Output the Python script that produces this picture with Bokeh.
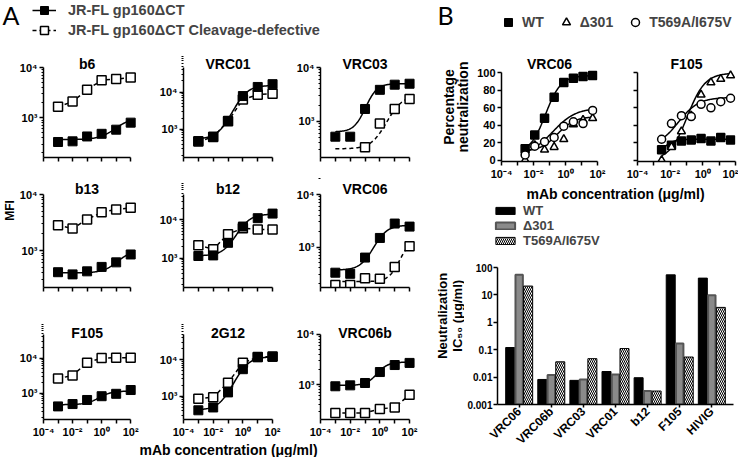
import numpy as np
from bokeh.plotting import figure
from bokeh.layouts import row, column
from bokeh.models import (Range1d, FixedTicker, CustomJSTickFormatter, Legend, LegendItem,
                          FactorRange, ColumnDataSource)
from bokeh.transform import dodge
from bokeh.core.properties import value
from bokeh.embed import file_html
from bokeh.resources import INLINE

FONT = "Liberation Sans"

# ---------------- Panel A data (MFI) ----------------
conc_A = [0.001, 0.01, 0.1, 1, 10, 100]
titles_A = ["b6", "VRC01", "VRC03", "b13", "b12", "VRC06", "F105", "2G12", "VRC06b"]

wt_b6 = [330, 340, 425, 480, 580, 800]
cd_b6 = [1650, 2100, 3600, 5600, 5900, 6300]
wt_vrc01 = [480, 630, 1690, 7800, 13700, 16300]
cd_vrc01 = [470, 620, 1650, 6300, 8500, 9000]
wt_vrc03 = [520, 520, 1700, 3850, 4800, 5000]
cd_vrc03 = [np.nan, np.nan, 330, 910, 1700, 2600]
wt_b13 = [410, 375, 425, 510, 615, 850]
cd_b13 = [2830, 2470, 3580, 4800, 5400, 5800]
wt_b12 = [1130, 1170, 2500, 6650, 11000, 14500]
cd_b12 = [2150, 1700, 4200, 6000, 5600, 5600]
wt_vrc06 = [325, 310, 630, 1490, 2800, 2450]
cd_vrc06 = [190, 190, 255, 250, 415, 1030]
wt_f105 = [420, 490, 640, 820, 960, 1230]
cd_f105 = [2600, 3200, 7400, 10000, 10300, 10300]
wt_2g12 = [410, 490, 1270, 5500, 11800, 12000]
cd_2g12 = [850, 940, 2350, 8200, 11800, 12200]
wt_vrc06b = [930, 970, 1080, 1780, 2450, 2700]
cd_vrc06b = [275, 275, 275, 330, 355, 630]

# 4-parameter logistic fits: [bottom, top, logEC50, hill]
fit_wt_b6 = [370, 1000, 1.2, 0.8]
fit_wt_vrc01 = [550, 15000, 0.0, 1.0]
fit_wt_vrc03 = [640, 5000, -0.6, 1.2]
fit_cd_vrc03 = [310, 3000, 1.0, 0.9]
fit_wt_b13 = [400, 1000, 1.3, 0.9]
fit_wt_b12 = [1150, 14000, 0.1, 1.0]
fit_wt_vrc06 = [365, 2600, 0.0, 1.0]
fit_cd_vrc06 = [220, 1500, 1.7, 1.2]
fit_wt_f105 = [470, 1150, 0.0, 1.0]
fit_wt_2g12 = [420, 12000, 0.1, 1.0]
fit_wt_vrc06b = [970, 2800, 0.0, 1.2]

wt_A = [wt_b6, wt_vrc01, wt_vrc03, wt_b13, wt_b12, wt_vrc06, wt_f105, wt_2g12, wt_vrc06b]
cd_A = [cd_b6, cd_vrc01, cd_vrc03, cd_b13, cd_b12, cd_vrc06, cd_f105, cd_2g12, cd_vrc06b]
fitwt_A = [fit_wt_b6, fit_wt_vrc01, fit_wt_vrc03, fit_wt_b13, fit_wt_b12, fit_wt_vrc06,
           fit_wt_f105, fit_wt_2g12, fit_wt_vrc06b]
fitcd_A = [None, None, fit_cd_vrc03, None, None, fit_cd_vrc06, None, None, None]
# y-axis extents (log10) of each small plot
ylog_A = [(2.21, 4.0), (2.24, 4.66), (2.33, 4.0), (2.34, 4.0), (2.23, 4.66), (2.23, 4.0),
          (2.25, 4.68), (2.36, 4.70), (2.31, 4.0)]

# ---------------- Panel B data (neutralization) ----------------
conc_B = [0.003, 0.012, 0.049, 0.195, 0.78, 3.125, 12.5, 50]
vrc06_wt = [13, 29, 48, 72, 89, 94, 96, 97]
vrc06_d301 = [0, 17, 12, 15, 24, 41, 46, 48]
vrc06_t569 = [6, 16, 21, 26, 39, 44, 42, 57]
f105_wt = [12, 17, 22, 23, 25, 22, 26, 23]
f105_d301 = [0, 15, 33, 51, 75, 89, 93, 97]
f105_t569 = [24, 42, 51, 50, 64, 60, 67, 71]
fit_vrc06_B = [[8, 97, -1.25, 0.9], [10, 50, -0.5, 0.8], [5, 60, -0.8, 0.6]]
fit_f105_B = [[8, 24, -2.3, 1.5], [0, 100, -0.95, 0.8], [15, 72, -1.5, 0.7]]

bar_cats = ["VRC06", "VRC06b", "VRC03", "VRC01", "b12", "F105", "HIVIG"]
ic50_wt = [0.12, 0.0082, 0.0076, 0.016, 0.0095, 54, 41]
ic50_d301 = [54, 0.012, 0.0082, 0.0125, 0.0031, 0.17, 9.8]
ic50_t569 = [21, 0.036, 0.047, 0.11, 0.0031, 0.054, 3.5]


def four_pl(x, prm):
    bottom, top, logec50, hill = prm
    x = np.asarray(x, dtype=float)
    return bottom + (top - bottom) / (1 + 10 ** ((logec50 - np.log10(x)) * hill))


SUP_MAP = ('const m = {"-":"\u207b","0":"\u2070","1":"\u00b9","2":"\u00b2","3":"\u00b3",'
           '"4":"\u2074","5":"\u2075","6":"\u2076","7":"\u2077","8":"\u2078","9":"\u2079"};')
CODE_EVEN = SUP_MAP + """
const e = Math.round(Math.log10(tick));
if (e % 2 !== 0) { return ""; }
return "10" + String(e).split("").map(c => m[c]).join("");
"""
CODE_ALL = SUP_MAP + """
const e = Math.round(Math.log10(tick));
return "10" + String(e).split("").map(c => m[c]).join("");
"""
CODE_NONE = 'return "";'
CODE_DEC = """
if (tick >= 1) { return tick.toFixed(0); }
const d = Math.round(-Math.log10(tick));
return tick.toFixed(d);
"""


def style_axis(ax, size="11px"):
    ax.axis_line_width = 1.5
    ax.axis_line_color = "black"
    ax.major_tick_line_width = 1.5
    ax.major_tick_line_color = "black"
    ax.minor_tick_line_width = 1
    ax.minor_tick_line_color = "black"
    ax.major_tick_in = 0
    ax.major_tick_out = 4
    ax.minor_tick_in = 0
    ax.minor_tick_out = 2
    ax.major_label_standoff = 2
    ax.major_label_text_font = FONT
    ax.major_label_text_font_style = "bold"
    ax.major_label_text_font_size = size
    ax.major_label_text_color = "black"


def style_fig(p):
    p.xgrid.visible = False
    p.ygrid.visible = False
    p.outline_line_color = None
    p.background_fill_color = "white"
    p.border_fill_color = "white"


def blank(w, h):
    p = figure(width=w, height=h, x_range=Range1d(0, w), y_range=Range1d(0, h),
               x_axis_location=None, y_axis_location=None, output_backend="svg",
               toolbar_location=None, min_border=0)
    p.grid.visible = False
    p.outline_line_color = None
    p.background_fill_color = "white"
    p.border_fill_color = "white"
    return p


def put_text(p, x, y, s, size="13px", bold=True, angle=0.0, align="center",
             baseline="middle", font=FONT):
    p.text(x=[x], y=[y], text=[s], angle=angle, text_align=align, text_baseline=baseline,
           text_font=value(font), text_font_size=size,
           text_font_style="bold" if bold else "normal", text_color="black")


def legend_style(**kw):
    base = dict(padding=0, margin=0, border_line_color=None, background_fill_alpha=0,
                label_text_font=FONT, label_text_font_style="bold",
                label_text_font_size="14px")
    base.update(kw)
    return base


NAN = [np.nan]
decades = [10.0 ** e for e in range(-4, 3)]
minors = [m * 10.0 ** e for e in range(2, 5) for m in range(2, 10)]


def mfi_fig(k, w, bl, br, h, bt, bb, extra, tgap, xlabels):
    """extra: pixels of frame kept above the axis top for the plot title."""
    lo, hi = ylog_A[k]
    ppd = (h - bt - bb - extra) / (hi - lo)
    top = hi + extra / ppd
    p = figure(width=w, height=h, x_axis_type="log", y_axis_type="log",
               x_range=Range1d(1e-4, 10 ** 2.4), y_range=Range1d(10 ** lo, 10 ** top),
               output_backend="svg", toolbar_location=None,
               min_border_left=bl, min_border_right=br, min_border_top=bt, min_border_bottom=bb)
    style_fig(p)
    xs = np.logspace(-3, 2, 120)
    if fitcd_A[k] is not None:
        p.line(xs, four_pl(xs, fitcd_A[k]), line_color="black", line_width=1.5, line_dash="4 3")
    else:
        p.line(conc_A, cd_A[k], line_color="black", line_width=1.5, line_dash="4 3")
    p.scatter(conc_A, cd_A[k], marker="square", size=9, fill_color="white",
              line_color="black", line_width=1.5)
    p.line(xs, four_pl(xs, fitwt_A[k]), line_color="black", line_width=1.5)
    p.scatter(conc_A, wt_A[k], marker="square", size=9, fill_color="black", line_color="black")
    put_text(p, 10 ** -1, 10 ** (hi + tgap / ppd), titles_A[k], size="14px")
    xa = p.xaxis[0]
    ya = p.yaxis[0]
    style_axis(xa)
    style_axis(ya)
    xa.ticker = FixedTicker(ticks=decades)
    xa.bounds = (1e-4, 1e2)
    xa.formatter = CustomJSTickFormatter(code=CODE_EVEN if xlabels else CODE_NONE)
    ya.ticker = FixedTicker(ticks=[1e3, 1e4], minor_ticks=minors)
    ya.bounds = (10 ** lo, 10 ** hi)
    ya.formatter = CustomJSTickFormatter(code=CODE_ALL)
    return p


# ---------------- Panel A layout ----------------
col_w = [(134, 25, 14), (140, 33, 12), (128, 30, 3)]
# (height, border top, border bottom, title room, title gap above axis top)
row_h = [(126, 2, 19, 15, 4), (142, 2, 31, 16, 6), (122, 2, 19, 14, 1)]
rows_A = []
for r in range(3):
    h, bt, bb, extra, tgap = row_h[r]
    figs = [mfi_fig(3 * r + c, *col_w[c], h, bt, bb, extra, tgap, xlabels=(r == 2))
            for c in range(3)]
    rows_A.append(row(*figs))

headA = blank(418, 50)
put_text(headA, 2, 51, "A", size="25px", bold=False, align="left", baseline="top", font="Lato")
la1 = headA.line(x=NAN, y=NAN, line_color="black", line_width=1.5)
sa1 = headA.scatter(x=NAN, y=NAN, marker="square", fill_color="black", line_color="black")
la2 = headA.line(x=NAN, y=NAN, line_color="black", line_width=1.5, line_dash="4 3")
sa2 = headA.scatter(x=NAN, y=NAN, marker="square", fill_color="white", line_color="black",
                    line_width=1.5)
legA = Legend(items=[LegendItem(label="JR-FL gp160\u0394CT", renderers=[la1, sa1]),
                     LegendItem(label="JR-FL gp160\u0394CT Cleavage-defective", renderers=[la2, sa2])],
              location=(32, 10), glyph_width=24, glyph_height=20, label_height=16, spacing=-3,
              label_standoff=12, **legend_style(label_text_font_size="14.5px"))
headA.add_layout(legA)

stripA = blank(16, 390)
put_text(stripA, 9, 230, "MFI", size="12px", angle=np.pi / 2)
footA = blank(418, 17)
put_text(footA, 228, 8, "mAb concentration (\u03bcg/ml)", size="14px")

panelA = column(headA, row(stripA, column(*rows_A)), footA)


# ---------------- Panel B curves ----------------
def neut_fig(title, series, fits, w, bl, br, ylabels):
    h, bt, bb, extra, tgap = 142, 2, 21, 30, 9
    ppu = (h - bt - bb - extra) / 102.0
    p = figure(width=w, height=h, x_axis_type="log", x_range=Range1d(1e-4, 1e2),
               y_range=Range1d(-1.5, 100.5 + extra / ppu), output_backend="svg",
               toolbar_location=None, min_border_left=bl, min_border_right=br,
               min_border_top=bt, min_border_bottom=bb)
    style_fig(p)
    xs = np.logspace(np.log10(conc_B[0]), np.log10(conc_B[-1]), 100)
    for vals, fit, marker, fill in zip(series, fits, ["square", "triangle", "circle"],
                                       ["black", "white", "white"]):
        p.line(xs, four_pl(xs, fit), line_color="black", line_width=1.5)
        p.scatter(conc_B, vals, marker=marker, size=8, fill_color=fill, line_color="black",
                  line_width=1.5)
    put_text(p, 10 ** -1, 100 + tgap / ppu, title, size="14px")
    xa = p.xaxis[0]
    ya = p.yaxis[0]
    style_axis(xa)
    style_axis(ya)
    xa.ticker = FixedTicker(ticks=decades)
    xa.formatter = CustomJSTickFormatter(code=CODE_EVEN)
    ya.ticker = FixedTicker(ticks=[0, 20, 40, 60, 80, 100])
    ya.bounds = (-1.5, 100)
    if not ylabels:
        ya.formatter = CustomJSTickFormatter(code=CODE_NONE)
    return p


pv = neut_fig("VRC06", [vrc06_wt, vrc06_d301, vrc06_t569], fit_vrc06_B, 147, 31, 20, True)
pf = neut_fig("F105", [f105_wt, f105_d301, f105_t569], fit_f105_B, 121, 20, 3, False)
stripB1 = blank(52, 142)
put_text(stripB1, 30, 65, "Percentage", size="14px", angle=np.pi / 2)
put_text(stripB1, 44, 65, "neutralization", size="14px", angle=np.pi / 2)

headB = blank(320, 40)
put_text(headB, 19, 41, "B", size="25px", bold=False, align="left", baseline="top", font="Lato")
sb1 = headB.scatter(x=NAN, y=NAN, marker="square", fill_color="black", line_color="black")
sb2 = headB.scatter(x=NAN, y=NAN, marker="triangle", fill_color="white", line_color="black",
                    line_width=1.5)
sb3 = headB.scatter(x=NAN, y=NAN, marker="circle", fill_color="white", line_color="black",
                    line_width=1.5)
legB = Legend(items=[LegendItem(label="WT", renderers=[sb1]),
                     LegendItem(label="\u0394301", renderers=[sb2]),
                     LegendItem(label="T569A/I675V", renderers=[sb3])],
              orientation="horizontal", location=(80, 8), glyph_width=20, glyph_height=20,
              label_height=16, spacing=12, label_standoff=4, **legend_style())
headB.add_layout(legB)

xlabB = blank(320, 20)
put_text(xlabB, 197, 9, "mAb concentration (\u03bcg/ml)", size="14px")

# ---------------- Panel B bars ----------------
src = ColumnDataSource(dict(cat=bar_cats, wt=ic50_wt, d301=ic50_d301, t569=ic50_t569))
pb = figure(width=274, height=207, x_range=FactorRange(factors=bar_cats, range_padding=0.05),
            y_axis_type="log", y_range=Range1d(0.001, 100), output_backend="svg",
            toolbar_location=None, min_border_left=30, min_border_right=5, min_border_top=17,
            min_border_bottom=53)
style_fig(pb)
BAR_WT = dict(fill_color="black", line_color="black")
BAR_D301 = dict(fill_color="#8a8a8a", line_color="#555555", line_width=2)
BAR_T569 = dict(fill_color="black", line_color="black", hatch_pattern="left_diagonal_line",
                hatch_color="white", hatch_scale=4, hatch_weight=1)
pb.vbar(x=dodge("cat", -0.28, range=pb.x_range), top="wt", bottom=0.001, width=0.28,
        source=src, **BAR_WT)
pb.vbar(x=dodge("cat", 0.0, range=pb.x_range), top="d301", bottom=0.001, width=0.23,
        source=src, **BAR_D301)
pb.vbar(x=dodge("cat", 0.28, range=pb.x_range), top="t569", bottom=0.001, width=0.28,
        source=src, **BAR_T569)
style_axis(pb.xaxis[0], size="12px")
style_axis(pb.yaxis[0], size="10px")
pb.yaxis.major_label_standoff = 1
pb.xaxis.major_label_orientation = np.pi / 4
pb.xaxis.major_tick_out = 3
pb.yaxis.ticker = FixedTicker(ticks=[0.001, 0.01, 0.1, 1, 10, 100])
pb.yaxis.formatter = CustomJSTickFormatter(code=CODE_DEC)

barLeg = blank(320, 48)
rb1 = barLeg.vbar(x=NAN, top=NAN, width=1, **BAR_WT)
rb2 = barLeg.vbar(x=NAN, top=NAN, width=1, **BAR_D301)
rb3 = barLeg.vbar(x=NAN, top=NAN, width=1, **BAR_T569)
legBar = Legend(items=[LegendItem(label="WT", renderers=[rb1]),
                       LegendItem(label="\u0394301", renderers=[rb2]),
                       LegendItem(label="T569A/I675V", renderers=[rb3])],
                location=(75, 2), glyph_width=24, glyph_height=9, label_height=12,
                spacing=-3, label_standoff=6,
                **legend_style(label_text_font_size="13px"))
barLeg.add_layout(legBar)

stripB2 = blank(46, 207)
put_text(stripB2, 24, 134, "Neutralization", size="13px", angle=np.pi / 2)
put_text(stripB2, 39, 134, "IC\u2085\u2080 (\u03bcg/ml)", size="13px", angle=np.pi / 2)

panelB = column(headB, row(stripB1, pv, pf), xlabB, barLeg, row(stripB2, pb))

layout = row(panelA, panelB)
open("out.html", "w").write(file_html(layout, INLINE))
